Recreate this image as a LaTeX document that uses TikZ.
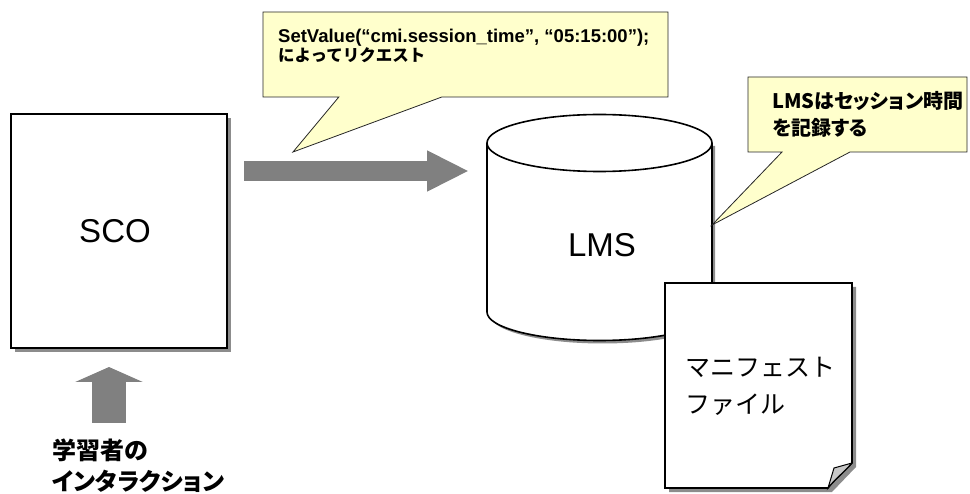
\documentclass[tikz,border=0pt]{standalone}
\usepackage{fontspec}
\setmainfont{Liberation Sans}
\newfontfamily\jpfont{Noto Sans CJK JP}
\newfontfamily\jppfont[RawFeature=+palt]{Noto Sans CJK JP}
\usepackage{tikz}
\usetikzlibrary{arrows.meta,positioning,calc,shapes.callouts,shadows}
\definecolor{notefill}{HTML}{FFFFCC}
\definecolor{arrowgrey}{HTML}{808080}
\definecolor{shadowgrey}{HTML}{8C8C8C}

\begin{document}
\begin{tikzpicture}[x=1pt,y=-1pt,
  boxshadow/.style={drop shadow={shadow xshift=4pt,shadow yshift=-4pt,fill=shadowgrey,opacity=1}},
  note/.style={rectangle callout,draw=black!85,fill=notefill,line width=0.8pt,inner sep=0pt},
  bigarrow/.style={draw=arrowgrey,line width=#1}]
\useasboundingbox (0,0) rectangle (970,494);
% SCO
\node[draw,line width=1.6pt,fill=white,boxshadow,minimum width=216pt,minimum height=234pt] (sco) at (119,231) {};
\node[inner sep=0pt,font=\fontsize{33}{40}\selectfont] (scotext) at (115,231) {SCO};
\coordinate (learner bot) at (109,423);
\coordinate (learner top) at (109,367);
\draw[bigarrow=34pt,-{Triangle[length=15pt,width=67pt,fill=arrowgrey]}] (learner bot) -- (learner top);
\node[anchor=west,align=left,inner sep=0pt,font=\jppfont\bfseries\fontsize{24}{31}\selectfont] (learner) at (52,466) {学習者の\\インタラクション};
% request arrow
\coordinate (req start) at (244,171);
\coordinate (req end) at (469,171);
\draw[bigarrow=20pt,-{Triangle[length=42pt,width=38pt,fill=arrowgrey]}] (req start) -- (req end);
% LMS
\fill[shadowgrey] (490,146) -- (490,315) arc[start angle=180,end angle=0,x radius=112.5,y radius=28.5] -- (715,146) -- cycle;
\filldraw[fill=white,line width=1.6pt] (487,143) -- (487,312) arc[start angle=180,end angle=0,x radius=112.5,y radius=28.5] -- (712,143);
\coordinate (lms top) at (599.5,143);
\draw[fill=white,line width=1.6pt] (lms top) ellipse[x radius=112.5,y radius=28.5];
\node[inner sep=0pt,font=\fontsize{33}{40}\selectfont] (lms) at (602,245) {LMS};
\coordinate (lms side) at (712,225);
% manifest file
\fill[shadowgrey] (669,287) -- (856,287) -- (856,467) -- (832,492) -- (669,492) -- cycle;
\filldraw[fill=white,line width=1.6pt] (665,283) -- (852,283) -- (852,463) .. controls (842,474) and (834,480) .. (828,488) -- (665,488) -- cycle;
\filldraw[fill=black!22,line width=1pt] (852,463) -- (834,468) -- (828,488) .. controls (834,480) and (842,474) .. (852,463);
\node[anchor=west,align=left,inner sep=0pt,font=\jpfont\fontsize{25}{37}\selectfont] (manifest) at (685,386.5) {マニフェスト\\ファイル};
% notes
\node[note,minimum width=405pt,minimum height=85pt,callout absolute pointer={(293,152)},callout pointer width=103pt] (reqnote) at (465.5,54.5) {};
\node[anchor=west,align=left,inner sep=0pt,font=\bfseries\fontsize{18.5}{17.5}\selectfont] (reqtext) at (278,46) {SetValue(“cmi.session\_time”, “05:15:00”);\\{\jpfont\fontsize{16.5}{17.5}\selectfont によってリクエスト}};
\node[note,minimum width=219pt,minimum height=75pt,callout absolute pointer={(lms side)},callout pointer width=68pt] (lmsnote) at (857.5,114.5) {};
\node[anchor=west,align=left,inner sep=0pt,font=\jppfont\bfseries\fontsize{20}{27}\selectfont] (lmstext) at (772,114.5) {LMSはセッション時間\\を記録する};
\end{tikzpicture}
\end{document}
